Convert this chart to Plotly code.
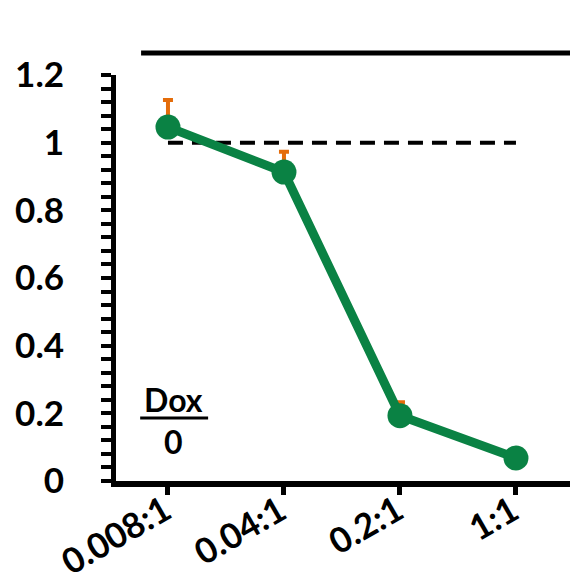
import plotly.graph_objects as go

categories = ["0.008:1", "0.04:1", "0.2:1", "1:1"]
values = [1.046, 0.913, 0.193, 0.068]
errors_up = [0.08, 0.06, 0.04, 0.01]
ref_level = [1.0, 1.0]
y_ticks = [0, 0.2, 0.4, 0.6, 0.8, 1, 1.2]
y_ticklabels = ["0", "0.2", "0.4", "0.6", "0.8", "1", "1.2"]

GREEN = "#0A8244"
ORANGE = "#E46C0A"
FONT = dict(family="Lato, Open Sans, sans-serif", size=34, color="black", weight="bold")

fig = go.Figure()

fig.add_trace(go.Scatter(
    x=[categories[0], categories[-1]], y=ref_level, mode="lines",
    line=dict(color="black", width=4, dash="15px,9px"), hoverinfo="skip", showlegend=False,
))

fig.add_trace(go.Scatter(
    x=categories, y=values, mode="lines+markers",
    line=dict(color=GREEN, width=9),
    marker=dict(color=GREEN, size=25),
    error_y=dict(type="data", symmetric=False, array=errors_up, arrayminus=[0]*4,
                 color=ORANGE, thickness=4, width=5),
    showlegend=False,
))

# x tick labels drawn as rotated annotations placed at each category
xlabel_annotations = [
    dict(text=c, xref="x", x=c, xshift=12, yref="paper", y=-0.006,
         xanchor="right", yanchor="top", textangle=-30, showarrow=False,
         font=dict(size=35))
    for c in categories
]

fig.update_layout(
    width=570, height=577,
    margin=dict(l=108, r=6, t=67, b=104),
    paper_bgcolor="white", plot_bgcolor="white",
    font=FONT,
    xaxis=dict(
        type="category", categoryorder="array", categoryarray=categories,
        range=[-0.448, 3.483], automargin=False,
        showline=True, linecolor="black", linewidth=6,
        ticks="outside", ticklen=8, tickwidth=5, tickcolor="black",
        showticklabels=False, showgrid=False, zeroline=False,
    ),
    yaxis=dict(
        range=[0, 1.2], tickvals=y_ticks, ticktext=y_ticklabels, automargin=False,
        showline=True, linecolor="black", linewidth=5,
        ticks="outside", ticklen=10, tickwidth=4, tickcolor="black",
        ticklabelstandoff=30, tickfont=dict(size=35),
        minor=dict(dtick=0.04, ticks="outside", ticklen=10, tickwidth=4, tickcolor="black"),
        showgrid=False, zeroline=False,
    ),
    shapes=[
        dict(type="line", xref="paper", yref="paper", x0=0.055, x1=1.02, y0=1.054, y1=1.054,
             line=dict(color="black", width=5)),
        dict(type="line", xref="paper", yref="paper", x0=0.053, x1=0.202,
             y0=0.155, y1=0.155, line=dict(color="black", width=3)),
    ],
    annotations=[
        dict(text="Dox", xref="paper", yref="paper", x=0.127, y=0.2,
             showarrow=False, font=dict(size=32), xanchor="center", yanchor="middle"),
        dict(text="0", xref="paper", yref="paper", x=0.127, y=0.0985,
             showarrow=False, font=dict(size=32), xanchor="center", yanchor="middle"),
    ] + xlabel_annotations,
)

fig.write_html("out.html")
